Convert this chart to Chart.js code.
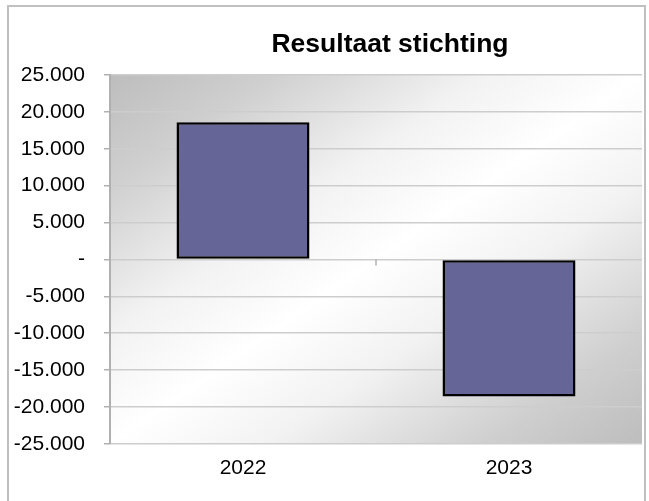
<!DOCTYPE html>
<html>
<head>
<meta charset="utf-8">
<script src="https://cdn.jsdelivr.net/npm/chart.js@4"></script>
<style>
  html, body { margin: 0; padding: 0; background: #fff; }
  #wrap { position: relative; width: 649px; height: 501px; overflow: hidden; }
  #frame { position: absolute; left: 7px; top: 5px; width: 639px; height: 520px; border: 2px solid #c0c0c0; box-sizing: border-box; }
  canvas { position: absolute; left: 0; top: 0; }
</style>
</head>
<body>
<div id="wrap">
  <div id="frame"></div>
  <canvas id="c" width="649" height="501"></canvas>
</div>
<script>
const titleText = 'Resultaat stichting';
const categories = ['2022', '2023'];
const resultValues = [18600, -18600];
const yMin = -25000;
const yMax = 25000;
const yStep = 5000;

const FONT = "'Liberation Sans', Arial, sans-serif";

function fmt(v) {
  if (v === 0) return '-';
  const s = Math.abs(v).toString().replace(/\B(?=(\d{3})+(?!\d))/g, '.');
  return (v < 0 ? '-' : '') + s;
}

const bgPlugin = {
  id: 'bgPlugin',
  beforeDraw(chart) {
    const { ctx, chartArea: a } = chart;
    ctx.save();
    ctx.translate(a.left, a.top);
    ctx.scale(a.right - a.left, a.bottom - a.top);
    const g = ctx.createLinearGradient(0, 0, 1, 1);
    g.addColorStop(0, '#bdbdbd');
    g.addColorStop(0.15, '#cfcfcf');
    g.addColorStop(0.35, '#f2f2f2');
    g.addColorStop(0.5, '#ffffff');
    g.addColorStop(0.65, '#f2f2f2');
    g.addColorStop(0.85, '#cfcfcf');
    g.addColorStop(1, '#bdbdbd');
    ctx.fillStyle = g;
    ctx.fillRect(0, 0, 1, 1);
    ctx.restore();
  },
  afterDatasetsDraw(chart) {
    const { ctx, scales } = chart;
    const x = scales.x, y = scales.y;
    const y0 = y.getPixelForValue(0);
    ctx.save();
    ctx.strokeStyle = '#b0b0b0';
    ctx.lineWidth = 1.5;
    for (let i = 0; i < categories.length - 1; i++) {
      const bx = (x.getPixelForTick(i) + x.getPixelForTick(i + 1)) / 2;
      ctx.beginPath();
      ctx.moveTo(bx, y0);
      ctx.lineTo(bx, y0 + 6);
      ctx.stroke();
    }
    ctx.restore();
  },
  afterDraw(chart) {
    const { ctx, chartArea: a } = chart;
    ctx.save();
    ctx.font = 'bold 26.5px ' + FONT;
    ctx.fillStyle = '#000';
    ctx.textAlign = 'center';
    ctx.textBaseline = 'alphabetic';
    ctx.fillText(titleText, (a.left + a.right) / 2 + 14, 52);
    ctx.restore();
  }
};

new Chart(document.getElementById('c'), {
  type: 'bar',
  data: {
    labels: categories,
    datasets: [{
      data: resultValues,
      backgroundColor: '#656597',
      borderColor: '#000000',
      borderWidth: 2.5,
      borderSkipped: false,
      barPercentage: 0.5,
      categoryPercentage: 1.0
    }]
  },
  options: {
    responsive: false,
    animation: false,
    layout: { padding: { left: 10, right: 7, top: 75, bottom: 16 } },
    plugins: {
      legend: { display: false },
      tooltip: { enabled: false },
      title: { display: false }
    },
    scales: {
      x: {
        grid: { display: false },
        border: { display: false },
        ticks: {
          color: '#000',
          padding: 4,
          font: { family: FONT, size: 21 }
        }
      },
      y: {
        min: yMin,
        max: yMax,
        afterFit(scale) { scale.width = 100; },
        grid: { color: '#cdcdcd', lineWidth: 1.5, tickLength: 6, tickColor: '#b0b0b0' },
        border: { display: true, color: '#b0b0b0', width: 2 },
        ticks: {
          stepSize: yStep,
          color: '#000',
          padding: 19,
          font: { family: FONT, size: 21 },
          callback: (v) => fmt(v)
        }
      }
    }
  },
  plugins: [bgPlugin]
});
</script>
</body>
</html>
